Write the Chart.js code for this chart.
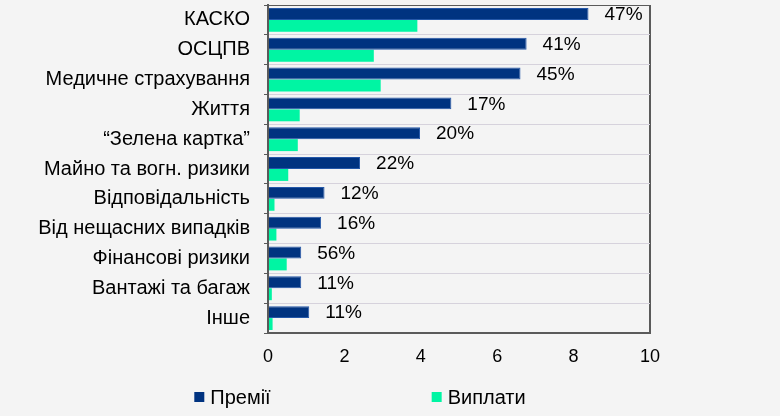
<!DOCTYPE html>
<html>
<head>
<meta charset="utf-8">
<script src="https://cdn.jsdelivr.net/npm/chart.js@4"></script>
<style>
  body { margin: 0; background: #f4f4f4; }
  #wrap { width: 780px; height: 416px; }
</style>
</head>
<body>
<div id="wrap"><canvas id="insChart"></canvas></div>
<script>
const categories = ['КАСКО', 'ОСЦПВ', 'Медичне страхування', 'Життя', '\u201cЗелена картка\u201d',
  'Майно та вогн. ризики', 'Відповідальність', 'Від нещасних випадків', 'Фінансові ризики',
  'Вантажі та багаж', 'Інше'];
const premiums = [8.39, 6.77, 6.61, 4.80, 3.98, 2.41, 1.48, 1.39, 0.87, 0.87, 1.08];
const payouts = [3.91, 2.77, 2.95, 0.83, 0.78, 0.53, 0.17, 0.22, 0.49, 0.10, 0.12];
const ratioLabels = ['47%', '41%', '45%', '17%', '20%', '22%', '12%', '16%', '56%', '11%', '11%'];
const xTicks = [0, 2, 4, 6, 8, 10];

const FONT = '"Liberation Sans", Arial, sans-serif';
const axisColor = '#5a5a5a';

// percentage labels to the right of the premium bars
const ratioPlugin = {
  id: 'ratioLabels',
  afterDatasetsDraw(chart) {
    const ctx = chart.ctx;
    const meta = chart.getDatasetMeta(0);
    ctx.save();
    ctx.font = '19px ' + FONT;
    ctx.fillStyle = '#000';
    ctx.textBaseline = 'middle';
    meta.data.forEach((bar, i) => {
      ctx.fillText(ratioLabels[i], bar.x + 16, bar.y + 1);
    });
    ctx.restore();
  }
};

// legend with a wide gap between the two items
const legendPlugin = {
  id: 'wideLegend',
  afterDraw(chart) {
    const ctx = chart.ctx;
    const sets = chart.data.datasets;
    const box = 10, textOff = 16, gap = 161;
    const y = chart.height - 19;
    ctx.save();
    ctx.font = '20px ' + FONT;
    ctx.textBaseline = 'middle';
    const widths = sets.map(d => textOff + ctx.measureText(d.label).width);
    const total = widths.reduce((a, b) => a + b, 0) + gap * (sets.length - 1);
    let x = 360 - total / 2;
    sets.forEach((d, i) => {
      ctx.fillStyle = d.backgroundColor;
      ctx.fillRect(x, y - 5, box, box);
      ctx.fillStyle = '#000';
      ctx.fillText(d.label, x + textOff, y + 1);
      x += widths[i] + gap;
    });
    ctx.restore();
  }
};

new Chart(document.getElementById('insChart'), {
  type: 'bar',
  data: {
    labels: categories,
    datasets: [{
      label: 'Премії',
      data: premiums,
      backgroundColor: '#003380',
      borderColor: '#2457a8',
      borderWidth: 1,
      borderSkipped: 'start'
    }, {
      label: 'Виплати',
      data: payouts,
      backgroundColor: '#00F5A3',
      borderWidth: 0
    }]
  },
  options: {
    indexAxis: 'y',
    responsive: true,
    maintainAspectRatio: false,
    animation: false,
    datasets: {
      bar: { categoryPercentage: 0.8, barPercentage: 1.0 }
    },
    layout: { padding: { left: 0, top: 5, right: 130, bottom: 38 } },
    plugins: {
      legend: { display: false },
      tooltip: { enabled: false }
    },
    scales: {
      x: {
        min: 0,
        max: 10,
        afterBuildTicks: s => { s.ticks = xTicks.map(v => ({ value: v })); },
        afterFit: s => { s.height = 45; },
        border: { color: axisColor, width: 2 },
        grid: {
          drawTicks: false,
          color: c => (c.tick && c.tick.value === 10) ? axisColor : 'transparent',
          lineWidth: 2
        },
        ticks: { color: '#000', padding: 13, font: { family: FONT, size: 18 } }
      },
      y: {
        afterFit: s => { s.width = 268; s.paddingTop = 0; s.paddingBottom = 0; },
        border: { color: axisColor, width: 2 },
        grid: {
          color: c => c.index === 0 ? axisColor : '#d6d2dc',
          tickColor: axisColor,
          tickLength: 4,
          lineWidth: 1
        },
        ticks: { color: '#000', padding: 14, font: { family: FONT, size: 20 } }
      }
    }
  },
  plugins: [ratioPlugin, legendPlugin]
});
</script>
</body>
</html>
